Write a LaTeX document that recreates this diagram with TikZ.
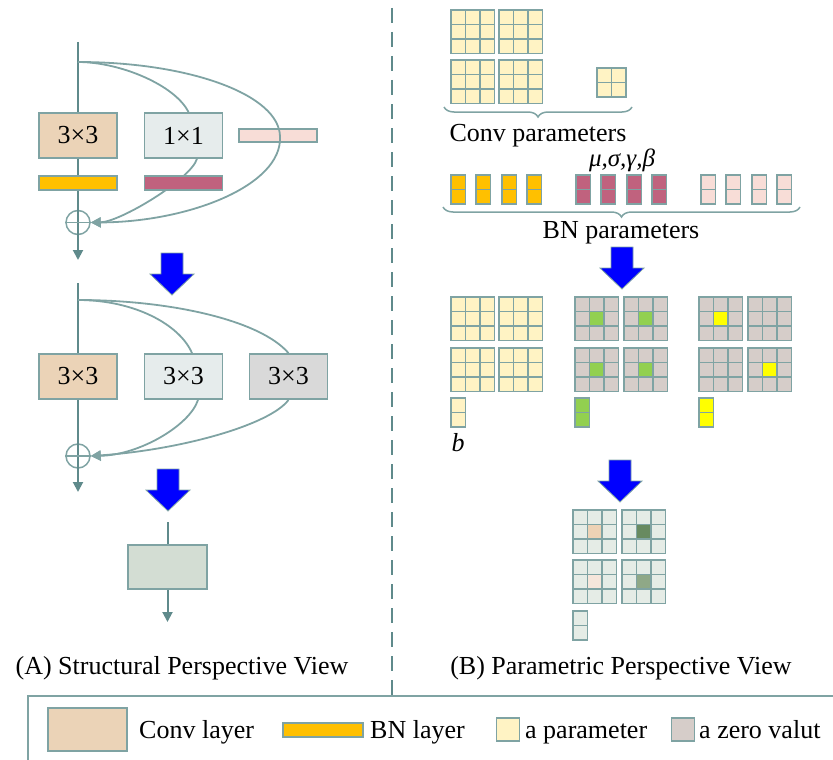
\documentclass[tikz,border=0pt]{standalone}
\usepackage{fontspec}
\setmainfont{Liberation Serif}
\usetikzlibrary{arrows.meta,decorations.pathreplacing,calc}

\definecolor{edge}{HTML}{7FA3A3}
\definecolor{trunk}{HTML}{5F8A8B}
\definecolor{convfill}{HTML}{EBD3B7}
\definecolor{onefill}{HTML}{E6ECEC}
\definecolor{idfill}{HTML}{D9D9D9}
\definecolor{mergedfill}{HTML}{D3DDD3}
\definecolor{bnorange}{HTML}{FFC000}
\definecolor{bnmagenta}{HTML}{C0627E}
\definecolor{bnpink}{HTML}{F8DDD7}
\definecolor{paramfill}{HTML}{FFF3C4}
\definecolor{zerofill}{HTML}{D6CDC9}
\definecolor{kgreen}{HTML}{92D050}
\definecolor{kyellow}{HTML}{FFFF00}
\definecolor{fusedbase}{HTML}{E5ECE6}
\definecolor{fusedA}{HTML}{EDD2B5}
\definecolor{fusedB}{HTML}{688A60}
\definecolor{fusedC}{HTML}{F6E6DB}
\definecolor{fusedD}{HTML}{8FA887}

\tikzset{
  box/.style={draw=edge, line width=1.8pt, minimum width=78pt, minimum height=45pt, inner sep=0pt},
  bar/.style={draw=edge, line width=1.8pt, minimum width=78pt, minimum height=14pt, inner sep=0pt},
  summer/.style={circle, draw=edge, line width=1.5pt, minimum size=24pt, inner sep=0pt},
  trunkline/.style={draw=trunk, line width=2pt},
  skip/.style={draw=edge, line width=1.8pt},
  tipped/.style={-{Triangle[length=10pt,width=10pt]}},
  cell/.style={draw=edge, line width=1.8pt},
  brace/.style={draw=edge, line width=1.5pt, decorate, decoration={brace, mirror, amplitude=10pt}},
  bigarrow/.pic={\draw[edge, line width=0.8pt, fill=blue]
      (-11,0) -- (11,0) -- (11,21) -- (22,21) -- (0,42) -- (-22,21) -- (-11,21) -- cycle;},
}

% 3x3 kernel with its own fill and a separately coloured centre cell
\newcommand\kernelblock[4]{%
  \foreach \ci in {0,1,2}{\foreach \cj in {0,1,2}{
    \draw[cell,fill=#3] ({#1+\ci*14.5},{#2+\cj*14.5}) rectangle ++(14.5,14.5);}}
  \draw[cell,fill=#4] ({#1+14.5},{#2+14.5}) rectangle ++(14.5,14.5);}
% a column of two parameters
\newcommand\paircolumn[3]{%
  \draw[cell,fill=#3] (#1,#2) rectangle ++(14.5,14.5);
  \draw[cell,fill=#3] (#1,{#2+14.5}) rectangle ++(14.5,14.5);}

\begin{document}
\begin{tikzpicture}[x=1pt, y=-1pt, font=\fontsize{26}{30}\selectfont]
\useasboundingbox (0,0) rectangle (833,760);

% ---------- (A) structural view: training-time block ----------
\coordinate (in1) at (78,42);
\coordinate (split1) at (78,62);
\node[box, fill=convfill] (convA) at (78,135.5) {3×3};
\node[box, fill=onefill] (oneA) at (183.5,135.5) {1×1};
\node[bar, fill=bnpink, minimum height=13pt] (pinkA) at (278,135.5) {};
\node[bar, fill=bnorange] (orangeA) at (78,183) {};
\node[summer] (sumA) at (78,222.5) {};
\coordinate (outA) at (78,260);
\draw[trunkline] (in1) -- (convA.north) (convA.south) -- (orangeA.north) (orangeA.south) -- (sumA.south);
\draw[trunkline, tipped] (sumA.south) -- (outA);
\draw[skip, line width=1.5pt] (sumA.west) -- (sumA.east);
\draw[skip] (split1) .. controls (120,62) and (175,85) .. ($(oneA.north)+(5,0)$);
\draw[skip, tipped] ($(oneA.south)+(13.5,0)$) .. controls (190,180) and (120,222) .. (sumA.east);
\draw[skip, tipped] (split1) .. controls (190,62) and (280,95) .. (280,137)
   .. controls (282,185) and (190,222) .. (sumA.east);
\node[bar, fill=bnmagenta] (magA) at (183.5,183) {};

\pic at (172,253) {bigarrow};

% ---------- (A) structural view: three 3x3 branches ----------
\coordinate (in2) at (78,283);
\coordinate (split2) at (78,300);
\node[box, fill=convfill] (convB) at (78,376.5) {3×3};
\node[box, fill=onefill] (oneB) at (183.5,376.5) {3×3};
\node[box, fill=idfill] (idB) at (288.5,376.5) {3×3};
\node[summer] (sumB) at (78,456) {};
\coordinate (outB) at (78,492);
\draw[trunkline] (in2) -- (convB.north) (convB.south) -- (sumB.south);
\draw[trunkline, tipped] (sumB.south) -- (outB);
\draw[skip, line width=1.5pt] (sumB.west) -- (sumB.east);
\draw[skip] (split2) .. controls (135,300) and (180,325) .. ($(oneB.north)+(8.5,0)$);
\draw[skip] (split2) .. controls (170,300) and (260,320) .. (idB.north);
\draw[skip, tipped] ($(oneB.south)+(14.5,0)$) .. controls (190,425) and (140,455) .. (sumB.east);
\draw[skip, tipped] (idB.south) .. controls (270,425) and (180,450) .. (sumB.east);

\pic at (168,469) {bigarrow};

% ---------- (A) structural view: single fused conv ----------
\coordinate (in3) at (167.5,522);
\node[box, fill=mergedfill, minimum width=79pt, minimum height=44pt] (merged) at (167.5,567) {};
\coordinate (out3) at (167.5,622);
\draw[trunkline] (in3) -- (merged.north);
\draw[trunkline, tipped] (merged.south) -- (out3);

% ---------- separator ----------
\draw[draw=trunk, line width=2pt, dash pattern=on 15pt off 9pt] (392,8) -- (392,696);

% ---------- (B) parametric view: conv parameters ----------
\kernelblock{451}{10}{paramfill}{paramfill}
\kernelblock{499}{10}{paramfill}{paramfill}
\kernelblock{451}{60}{paramfill}{paramfill}
\kernelblock{499}{60}{paramfill}{paramfill}
\foreach \ci in {0,1}{\foreach \cj in {0,1}{
  \draw[cell,fill=paramfill] ({597+\ci*14.5},{68+\cj*14.5}) rectangle ++(14.5,14.5);}}
\draw[brace] (444,107) -- (632,107);
\node[anchor=base] (convlbl) at (538,141) {Conv parameters};

% ---------- (B) parametric view: BN parameters ----------
\node[anchor=base, font=\fontsize{25}{28}\selectfont\itshape] (stats) at (622,166) {μ,σ,γ,β};
\foreach \cx in {451,476,502,527}{\paircolumn{\cx}{175}{bnorange}}
\foreach \cx in {576,601,627,652}{\paircolumn{\cx}{175}{bnmagenta}}
\foreach \cx in {701,726,752,777}{\paircolumn{\cx}{175}{bnpink}}
\draw[brace] (443,207) -- (800,207);
\node[anchor=base] (bnlbl) at (621,238) {BN parameters};

\pic at (622,247) {bigarrow};

% ---------- (B) parametric view: equivalent kernels and biases ----------
\kernelblock{451}{297}{paramfill}{paramfill}
\kernelblock{499}{297}{paramfill}{paramfill}
\kernelblock{451}{348}{paramfill}{paramfill}
\kernelblock{499}{348}{paramfill}{paramfill}
\paircolumn{451}{398}{paramfill}
\node[anchor=base, font=\fontsize{26}{30}\selectfont\itshape] (biaslbl) at (458,451) {b};

\kernelblock{575}{297}{zerofill}{kgreen}
\kernelblock{624}{297}{zerofill}{kgreen}
\kernelblock{575}{348}{zerofill}{kgreen}
\kernelblock{624}{348}{zerofill}{kgreen}
\paircolumn{575}{398}{kgreen}

\kernelblock{699}{297}{zerofill}{kyellow}
\kernelblock{748}{297}{zerofill}{zerofill}
\kernelblock{699}{348}{zerofill}{zerofill}
\kernelblock{748}{348}{zerofill}{kyellow}
\paircolumn{699}{398}{kyellow}

\pic at (620,460) {bigarrow};

% ---------- (B) parametric view: fused kernel ----------
\kernelblock{573}{510}{fusedbase}{fusedA}
\kernelblock{622}{510}{fusedbase}{fusedB}
\kernelblock{573}{560}{fusedbase}{fusedC}
\kernelblock{622}{560}{fusedbase}{fusedD}
\paircolumn{573}{611}{fusedbase}

% ---------- panel titles ----------
\node[anchor=base] (titleA) at (182,674) {(A) Structural Perspective View};
\node[anchor=base] (titleB) at (621,674) {(B) Parametric Perspective View};

% ---------- legend ----------
\draw[draw=edge, line width=2pt] (840,696) -- (28,696) -- (28,770);
\node[draw=edge, line width=1.8pt, fill=convfill, minimum width=79pt, minimum height=43pt, inner sep=0pt] (keyconv) at (87.5,729.5) {};
\node[anchor=base west, inner sep=0pt] (keyconvtxt) at (139,738) {Conv layer};
\node[bar, fill=bnorange, minimum width=80pt] (keybn) at (323,730) {};
\node[anchor=base west, inner sep=0pt] (keybntxt) at (370,738) {BN layer};
\node[draw=edge, line width=1.6pt, fill=paramfill, minimum size=23pt, inner sep=0pt] (keyparam) at (508,729.5) {};
\node[anchor=base west, inner sep=0pt] (keyparamtxt) at (525,738) {a parameter};
\node[draw=edge, line width=1.6pt, fill=zerofill, minimum size=23pt, inner sep=0pt] (keyzero) at (683,729.5) {};
\node[anchor=base west, inner sep=0pt] (keyzerotxt) at (699,738) {a zero valut};
\end{tikzpicture}
\end{document}
